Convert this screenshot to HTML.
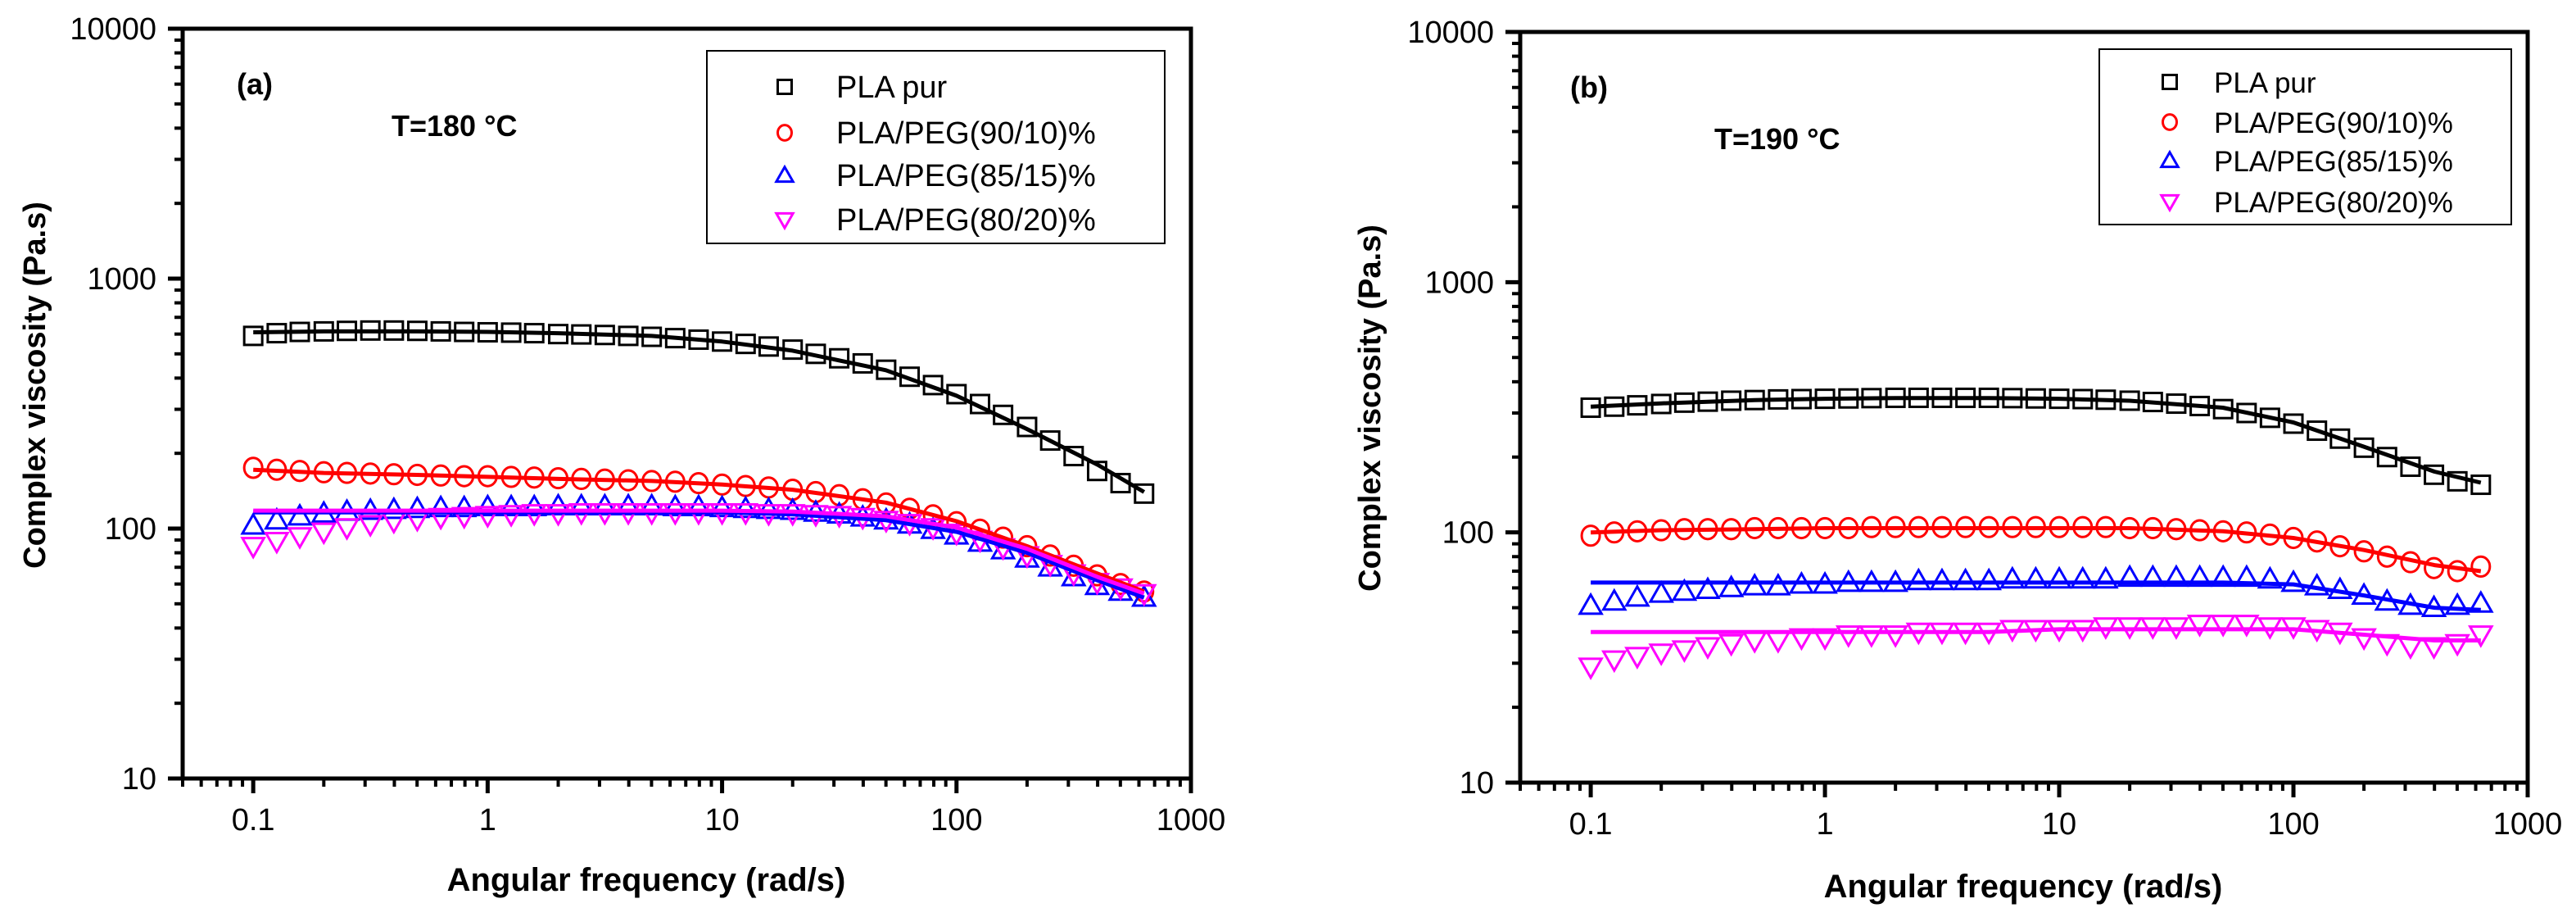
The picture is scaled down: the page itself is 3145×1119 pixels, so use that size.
<!DOCTYPE html>
<html><head><meta charset="utf-8"><style>
html,body{margin:0;padding:0;background:#fff;}
svg{display:block;font-family:"Liberation Sans",Arial,sans-serif;}
</style></head><body>
<svg id="chart" width="3145" height="1119" viewBox="0 0 3145 1119" xmlns="http://www.w3.org/2000/svg"></svg>
<script>
const freqs=[0.1,0.126,0.158,0.2,0.251,0.316,0.398,0.501,0.631,0.794,1,1.26,1.58,2,2.51,3.16,3.98,5.01,6.31,7.94,10,12.6,15.8,20,25.1,31.6,39.8,50.1,63.1,79.4,100,126,158,200,251,316,398,501,631];
const aBlack=[590,605,612,615,618,620,620,618,615,612,610,608,605,600,598,595,590,585,578,570,560,548,535,520,500,480,458,432,405,375,345,315,285,255,225,195,170,152,138];
const aRed=[175,172,170,168,167,166,165,164,163,162,162,161,160,159,158,157,156,155,154,152,150,148,146,143,140,136,131,126,120,113,106,99,92,85,78,71,65,60,56];
const aBlue=[103,108,112,115,117,118,119,120,121,121,122,122,122,123,123,123,123,123,122,122,121,120,119,118,116,114,111,108,104,99,94,88,82,76,70,64,59,56,53];
const aMag=[85,89,93,97,101,104,107,109,111,112,113,114,115,115,116,116,116,116,116,116,116,116,115,115,114,113,111,108,105,101,96,90,84,78,72,66,61,58,55];
const bBlack=[315,318,322,326,330,333,336,338,340,341,342,343,344,345,345,345,345,345,344,343,342,341,339,336,332,327,320,311,300,287,272,255,237,218,200,183,170,160,155];
const bRed=[97,100,101,102,103,103,103,104,104,104,104,104,105,105,105,105,105,105,105,105,105,105,105,104,104,103,102,101,100,98,95,92,88,84,80,76,72,70,73];
const bBlue=[51,53,55,57,58,59,60,61,61,62,62,63,63,63,64,64,64,64,65,65,65,65,65,66,66,66,66,66,66,65,63,61,59,56,53,51,50,51,52];
const bMag=[29,31,32,33,34,35,36,37,37,38,38,39,39,39,40,40,40,40,41,41,41,41,42,42,42,42,43,43,43,42,42,41,40,38,36,35,35,36,39];
const fitFreqs=[0.1,0.2,0.5,1,2,5,10,20,50,100,200,400,631];
const aBlackFit=[610,615,615,612,605,590,560,515,430,340,250,180,140];
const aRedFit=[172,167,164,161,158,155,150,143,127,107,85,66,56];
const aBlueFit=[116,116,116,116,116,116,116,114,108,97,80,62,53];
const aMagFit=[118,118,118,118,118,118,118,117,112,101,83,64,55];
const bBlackFit=[318,328,338,342,344,344,342,336,315,275,220,175,158];
const bRedFit=[100,102,103,104,104,104,104,104,101,95,85,74,70];
const bBlueFit=[63,63,63,63,63,63,63,63,63,62,56,50,49];
const bMagFit=[40,40,40,40,40,40,41,41,41,41,39,37,37];
const xTicks=[0.1,1,10,100,1000];
const xTickLabels=["0.1","1","10","100","1000"];
const yTicks=[10,100,1000,10000];
const yTickLabels=["10","100","1000","10000"];
const legendLabels=["PLA pur","PLA/PEG(90/10)%","PLA/PEG(85/15)%","PLA/PEG(80/20)%"];
const colors=["#000","#f00","#00f","#f0f"];
const shapes=["square","circle","up","down"];

const NS="http://www.w3.org/2000/svg";
const svg=document.getElementById('chart');
function mk(tag,attrs,parent,text){const e=document.createElementNS(NS,tag);for(const k in attrs)e.setAttribute(k,attrs[k]);if(text!==undefined)e.textContent=text;(parent||svg).appendChild(e);return e;}

function marker(g,shape,x,y,c,s){
  let e;
  if(shape==="square"){e=mk('rect',{x:x-s/2,y:y-s/2,width:s,height:s,fill:'none',stroke:c,'stroke-width':3},g);}
  else if(shape==="circle"){e=mk('ellipse',{cx:x,cy:y,rx:s*0.5,ry:s*0.55,fill:'none',stroke:c,'stroke-width':3},g);}
  else if(shape==="up"){e=mk('polygon',{points:`${x},${y-s*0.6} ${x-s*0.6},${y+s*0.45} ${x+s*0.6},${y+s*0.45}`,fill:'none',stroke:c,'stroke-width':3},g);}
  else {e=mk('polygon',{points:`${x},${y+s*0.6} ${x-s*0.6},${y-s*0.45} ${x+s*0.6},${y-s*0.45}`,fill:'none',stroke:c,'stroke-width':3},g);}
  return e;
}

function panel(cfg){
  const {L,R,T,B,id,tag,temp,series,fits}=cfg;
  const lx0=Math.log10(0.05),lx1=Math.log10(1000);
  const X=w=>L+(Math.log10(w)-lx0)/(lx1-lx0)*(R-L);
  const Y=v=>B-(Math.log10(v)-1)/3*(B-T);
  const g=mk('g',{});
  
  
  // series
  series.forEach((vals,si)=>{
    const sg=mk('g',{},g);
    
    
    freqs.forEach((f,i)=>{
      const m=marker(sg,shapes[si],X(f),Y(vals[i]),colors[si],22);
      
      
    });
  });
  fits.forEach((vals,si)=>{
    const pts=fitFreqs.map((f,i)=>X(f).toFixed(1)+','+Y(vals[i]).toFixed(1)).join(' ');
    const pl=mk('polyline',{points:pts,fill:'none',stroke:colors[si],'stroke-width':5,'stroke-linejoin':'round'},g);
    
    
  });
  // frame
  const fr=mk('rect',{x:L,y:T,width:R-L,height:B-T,fill:'none',stroke:'#000','stroke-width':5},g);
  
  
  // x ticks
  const xg=mk('g',{},g);
  
  
  xTicks.forEach((t,i)=>{
    mk('line',{x1:X(t),x2:X(t),y1:B,y2:B+18,stroke:'#000','stroke-width':5},xg);
    const tl=mk('text',{x:X(t),y:B+63,'font-size':38,'text-anchor':'middle'},xg,xTickLabels[i]);
    
    
  });
  for(let d=0.01;d<1000;d*=10){for(let k=2;k<=9;k++){const v=d*k;if(v<0.05||v>1000)continue;mk('line',{x1:X(v),x2:X(v),y1:B,y2:B+10,stroke:'#000','stroke-width':4},xg);}}
  // y ticks
  const yg=mk('g',{},g);
  
  
  yTicks.forEach((t,i)=>{
    mk('line',{x1:L-18,x2:L,y1:Y(t),y2:Y(t),stroke:'#000','stroke-width':5},yg);
    const tl=mk('text',{x:L-32,y:Y(t)+13,'font-size':38,'text-anchor':'end'},yg,yTickLabels[i]);
    
    
  });
  for(let d=10;d<10000;d*=10){for(let k=2;k<=9;k++){mk('line',{x1:L-10,x2:L,y1:Y(d*k),y2:Y(d*k),stroke:'#000','stroke-width':4},yg);}}
  // titles
  const xt=mk('text',{x:cfg.xtX,y:cfg.xtY,'font-size':40,'font-weight':'bold','text-anchor':'middle'},g,'Angular frequency (rad/s)');
  
  
  const yt=mk('text',{x:0,y:0,'font-size':38,'font-weight':'bold','text-anchor':'middle',transform:`translate(${cfg.ytX},${cfg.ytY}) rotate(-90)`},g,'Complex viscosity (Pa.s)');
  
  
  const pt=mk('text',{x:cfg.tagX,y:cfg.tagY,'font-size':36,'font-weight':'bold'},g,tag);
  
  
  const tt=mk('text',{x:cfg.tX,y:cfg.tY,'font-size':36,'font-weight':'bold'},g,temp);
  
  
  // legend
  const lg=mk('g',{},g);
  
  
  mk('rect',{x:cfg.lgX,y:cfg.lgY,width:cfg.lgW,height:cfg.lgH,fill:'#fff',stroke:'#000','stroke-width':2},lg);
  legendLabels.forEach((lab,i)=>{
    const ry=cfg.rows[i];
    const le=mk('g',{},lg);
    
    
    marker(le,shapes[i],cfg.mX,ry,colors[i],17);
    mk('text',{x:cfg.tX2,y:ry+13,'font-size':cfg.lfs},le,lab);
  });
}

panel({L:223,R:1454,T:35,B:950,id:'a',tag:'(a)',temp:'T=180 °C',series:[aBlack,aRed,aBlue,aMag],fits:[aBlackFit,aRedFit,aBlueFit,aMagFit],
  xtX:789,xtY:1087,ytX:55,ytY:470,tagX:289,tagY:115,tX:478,tY:166,
  lgX:863,lgY:62,lgW:559,lgH:235,rows:[106,162,214,268],mX:958,tX2:1021,lfs:38});
panel({L:1856,R:3086,T:39,B:955,id:'b',tag:'(b)',temp:'T=190 °C',series:[bBlack,bRed,bBlue,bMag],fits:[bBlackFit,bRedFit,bBlueFit,bMagFit],
  xtX:2470,xtY:1095,ytX:1685,ytY:498,tagX:1917,tagY:119,tX:2093,tY:182,
  lgX:2563,lgY:60,lgW:503,lgH:214,rows:[100,149,196,246],mX:2649,tX2:2703,lfs:35});
</script>
</body></html>
